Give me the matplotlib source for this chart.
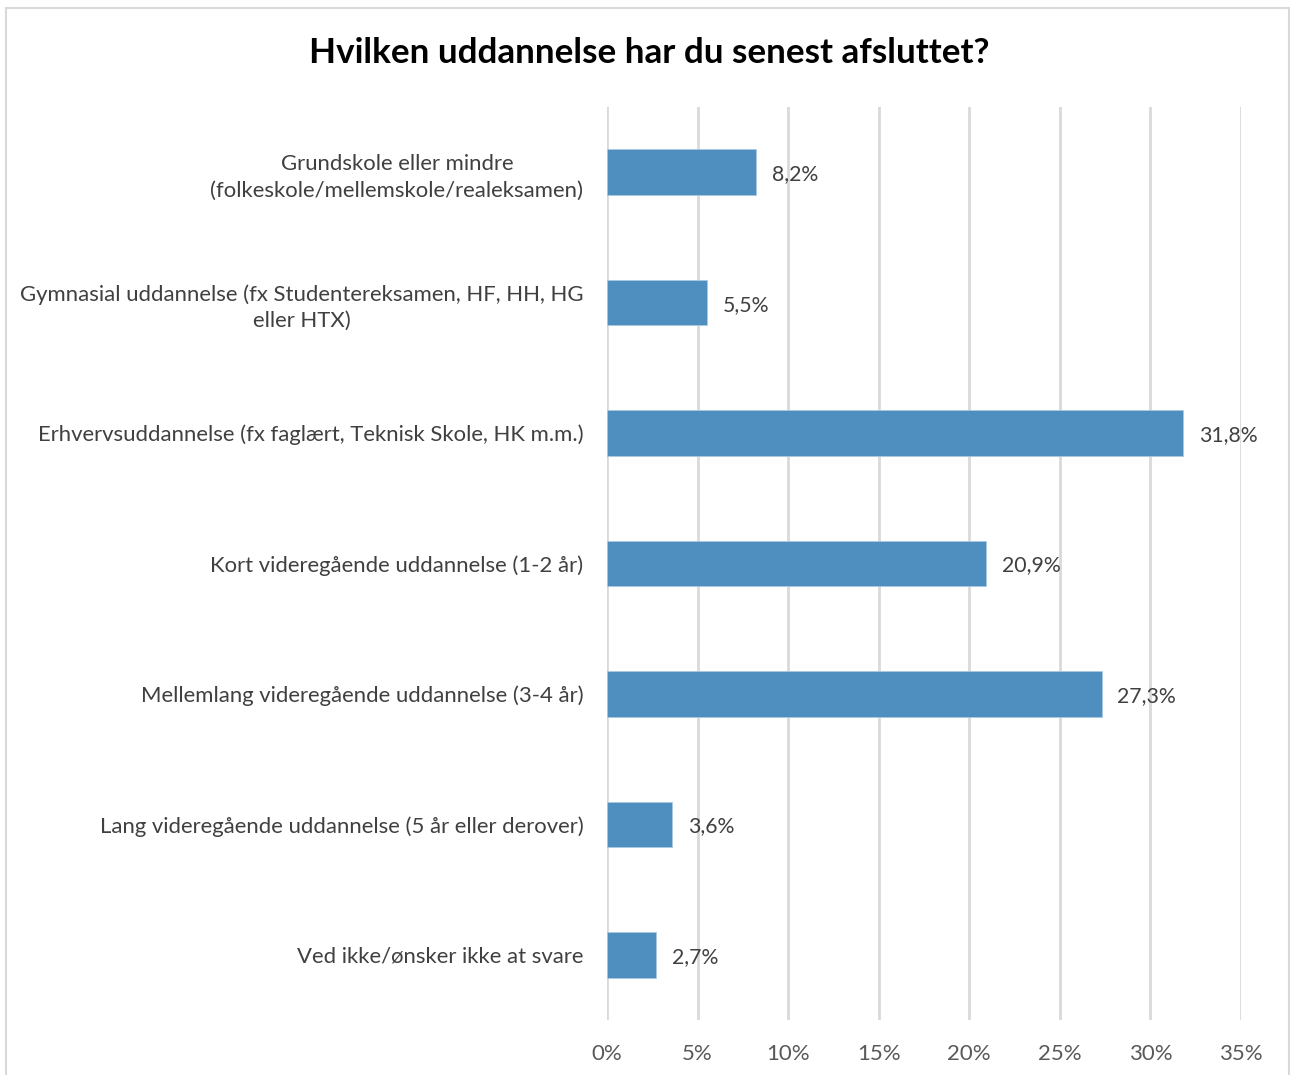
import matplotlib
matplotlib.use("Agg")
import matplotlib.pyplot as plt
from matplotlib.patches import Rectangle

categories = [
    "Grundskole eller mindre\n(folkeskole/mellemskole/realeksamen)",
    "Gymnasial uddannelse (fx Studentereksamen, HF, HH, HG\neller HTX)",
    "Erhvervsuddannelse (fx faglært, Teknisk Skole, HK m.m.)",
    "Kort videregående uddannelse (1-2 år)",
    "Mellemlang videregående uddannelse (3-4 år)",
    "Lang videregående uddannelse (5 år eller derover)",
    "Ved ikke/ønsker ikke at svare",
]
values = [8.2, 5.5, 31.8, 20.9, 27.3, 3.6, 2.7]
xticks = [0, 5, 10, 15, 20, 25, 30, 35]
title = "Hvilken uddannelse har du senest afsluttet?"

plt.rcParams['font.family'] = ['Lato', 'DejaVu Sans']

W, H = 1290, 1075
fig = plt.figure(figsize=(W / 100, H / 100), dpi=100)
fig.patches.append(Rectangle((6 / W, -10 / H), (W - 7) / W, (H - 8 + 10) / H,
                             transform=fig.transFigure, fill=False,
                             edgecolor='#D9D9D9', linewidth=1.5))

ax = fig.add_axes([607 / W, 1 - 1020 / H, (1241 - 607) / W, (1020 - 107) / H])
n = len(categories)
ypos = list(range(n))
ax.barh(ypos, values, height=0.35, color='#4F8FC0', edgecolor='#A9C8E2',
        linewidth=0.6, zorder=3)
ax.set_ylim(n - 0.5, -0.5)
ax.set_xlim(0, 35)
ax.set_xticks(xticks)
ax.set_xticklabels([f"{t}%" for t in xticks], color='#595959', fontsize=16)
ax.set_yticks(ypos)
ax.set_yticklabels(categories, color='#404040', fontsize=15.9,
                   multialignment='center', linespacing=1.4)
ax.tick_params(axis='x', length=0, pad=17)
ax.tick_params(axis='y', length=0, pad=17)
ax.grid(axis='x', color='#D9D9D9', linewidth=2, zorder=0)
for s in ax.spines.values():
    s.set_visible(False)

for y, v in zip(ypos, values):
    ax.annotate(f"{v:.1f}%".replace('.', ','), xy=(v, y), xytext=(11.5, -1.5),
                textcoords='offset points', ha='left', va='center',
                fontsize=15.3, color='#404040')

fig.text(649 / W, 1 - 53 / H, title, ha='center', va='center',
         fontsize=25.2, fontweight='bold', color='black')

fig.savefig("out.png", dpi=100)
